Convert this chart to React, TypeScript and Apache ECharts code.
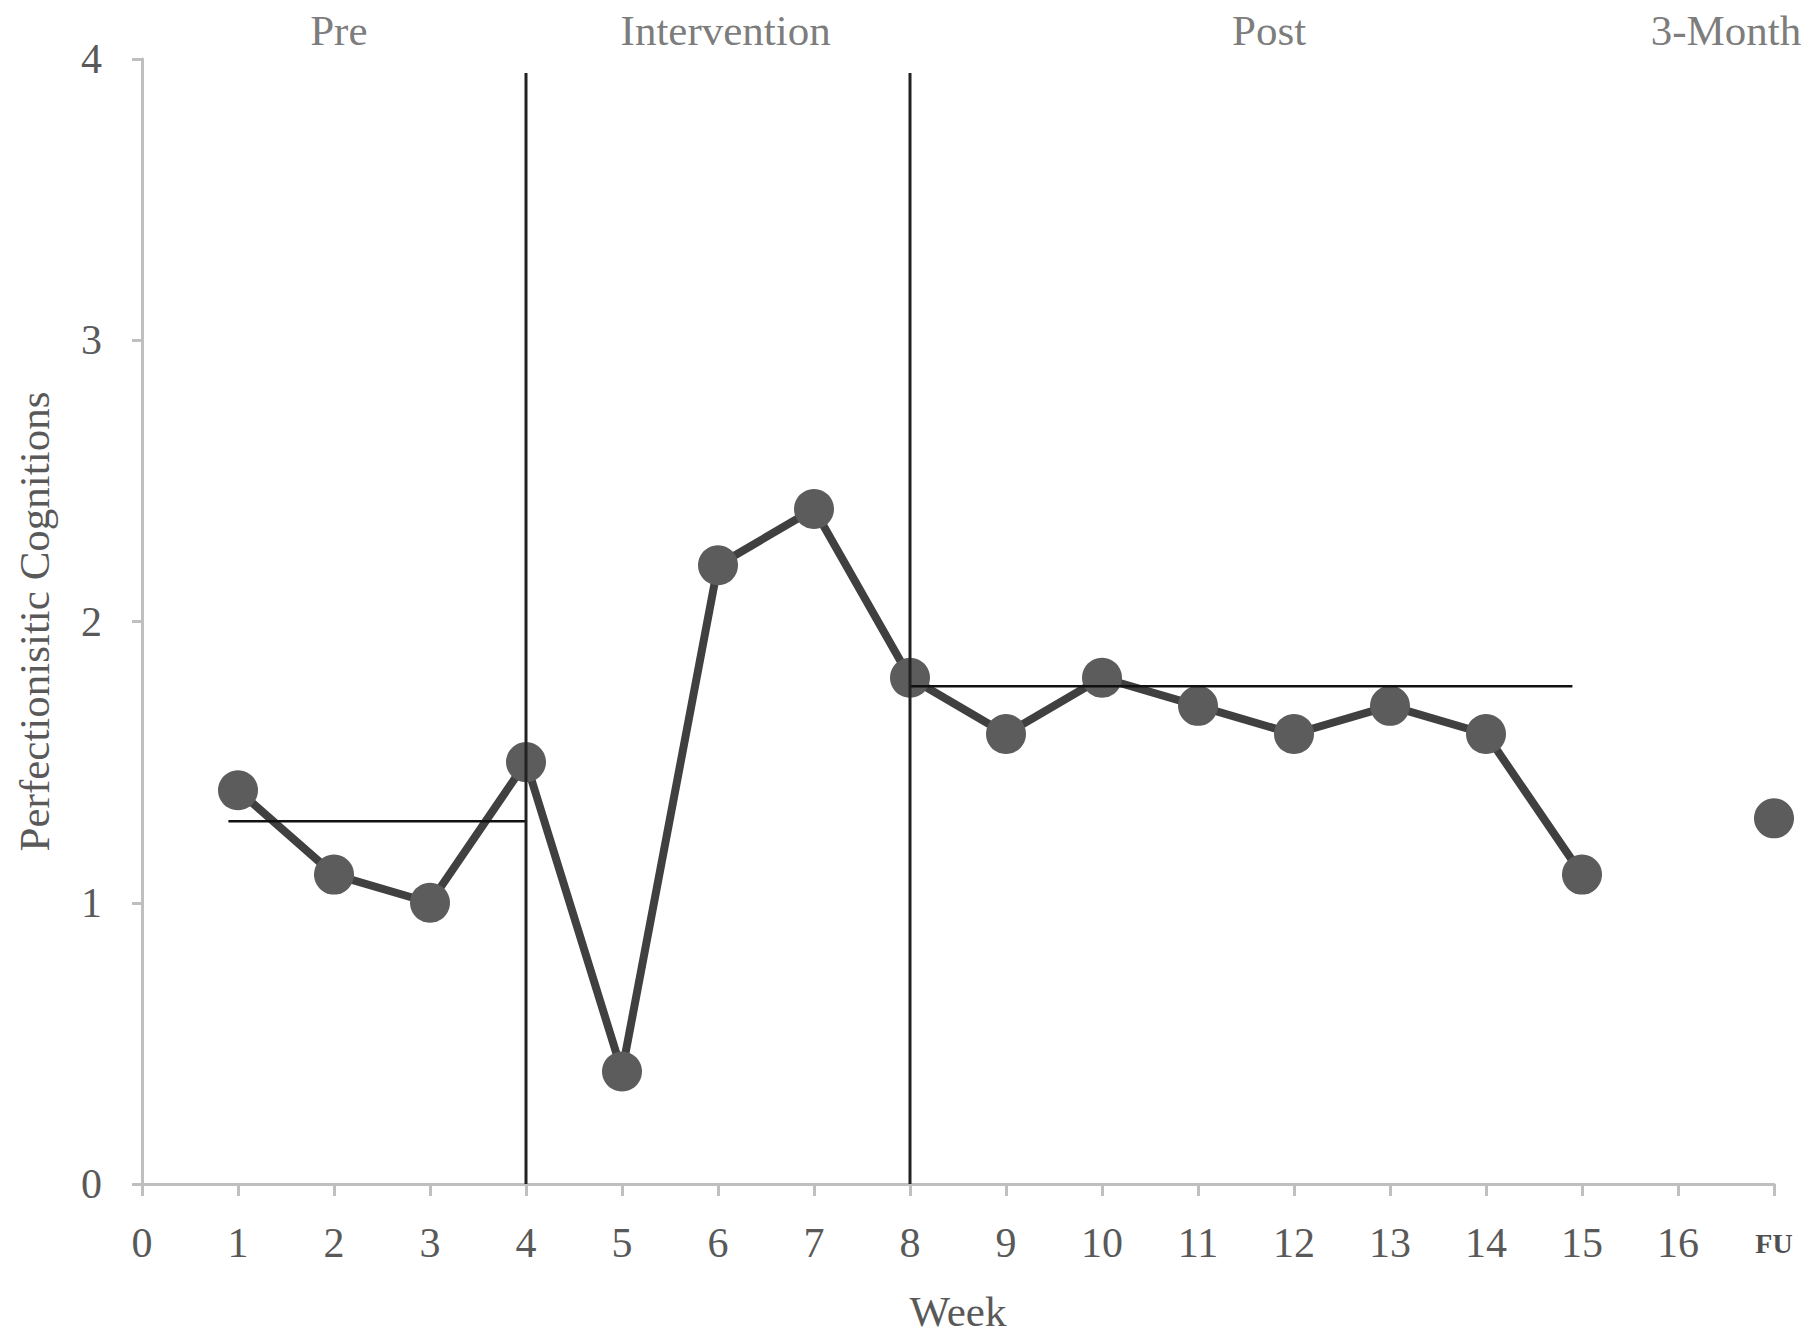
import React, { useEffect, useRef } from "react";
import * as echarts from "echarts";

const weeks = [1, 2, 3, 4, 5, 6, 7, 8, 9, 10, 11, 12, 13, 14, 15];
const scores = [1.4, 1.1, 1.0, 1.5, 0.4, 2.2, 2.4, 1.8, 1.6, 1.8, 1.7, 1.6, 1.7, 1.6, 1.1];
const followUpWeek = 17;
const followUpScore = 1.3;
const fuLabel = "FU";

const phaseNames = ["Pre", "Intervention", "Post", "3-Month"];
const phaseCenters = [2.05, 6.08, 11.74, 16.5];
const phaseLabelValue = 4.1;

const phaseBoundaries = [4, 8];
const boundaryTop = 3.95;

const meanNames = ["Pre mean", "Post mean"];
const meanStarts = [0.9, 8];
const meanEnds = [4, 14.9];
const meanValues = [1.29, 1.77];

const FONT = "'Liberation Serif', 'Times New Roman', serif";
const TEXT = "#595959";
const AXIS = "#bfbfbf";
const MARK = "#5c5c5c";

export default function App() {
  const ref = useRef<HTMLDivElement>(null);
  useEffect(() => {
    if (!ref.current) return;
    const chart = echarts.init(ref.current, null, { renderer: "svg" });
    const series: any[] = [
      {
        name: "Perfectionistic Cognitions",
        type: "line",
        data: weeks.map((w, i) => [w, scores[i]]),
        symbol: "circle",
        symbolSize: 40,
        lineStyle: { color: "#404040", width: 8 },
        itemStyle: { color: MARK, opacity: 1 },
        z: 2,
      },
      {
        name: "Follow-up",
        type: "scatter",
        data: [[followUpWeek, followUpScore]],
        symbol: "circle",
        symbolSize: 40,
        itemStyle: { color: MARK, opacity: 1 },
        z: 2,
      },
    ];
    meanValues.forEach((v, i) => {
      series.push({
        name: meanNames[i],
        type: "line",
        data: [
          [meanStarts[i], v],
          [meanEnds[i], v],
        ],
        symbol: "none",
        lineStyle: { color: "#111111", width: 2.5 },
        z: 5,
      });
    });
    phaseBoundaries.forEach((b, i) => {
      series.push({
        name: "Boundary " + (i + 1),
        type: "line",
        data: [
          [b, 0],
          [b, boundaryTop],
        ],
        symbol: "none",
        lineStyle: { color: "#222222", width: 3 },
        z: 5,
      });
    });
    series.push({
      name: "Phases",
      type: "scatter",
      symbolSize: 0,
      clip: false,
      silent: true,
      data: phaseNames.map((n, i) => ({ name: n, value: [phaseCenters[i], phaseLabelValue] })),
      label: {
        show: true,
        position: "inside",
        formatter: (p: any) => p.name,
        color: TEXT,
        fontFamily: FONT,
        fontSize: 43,
      },
      z: 6,
    });

    chart.setOption({
      animation: false,
      backgroundColor: "#ffffff",
      grid: { left: 142, right: 34, top: 59, bottom: 153, containLabel: false },
      xAxis: {
        type: "value",
        min: 0,
        max: 17,
        interval: 1,
        name: "Week",
        nameLocation: "middle",
        nameGap: 106,
        nameTextStyle: { color: TEXT, fontFamily: FONT, fontSize: 43 },
        axisLine: { lineStyle: { color: AXIS, width: 3 } },
        axisTick: { show: true, length: 12, lineStyle: { color: AXIS, width: 3 } },
        splitLine: { show: false },
        axisLabel: {
          color: TEXT,
          fontFamily: FONT,
          fontSize: 42,
          lineHeight: 46,
          margin: 36,
          showMinLabel: true,
          showMaxLabel: true,
          formatter: (v: number) => (v === followUpWeek ? "{fu|" + fuLabel + "}" : String(v)),
          rich: {
            fu: {
              fontSize: 28,
              lineHeight: 46,
              fontWeight: "bold",
              color: "#4f4f4f",
              fontFamily: FONT,
            },
          },
        },
      },
      yAxis: {
        type: "value",
        min: 0,
        max: 4,
        interval: 1,
        name: "Perfectionisitic Cognitions",
        nameLocation: "middle",
        nameRotate: 90,
        nameGap: 86,
        nameTextStyle: { color: TEXT, fontFamily: FONT, fontSize: 43 },
        axisLine: { show: true, lineStyle: { color: AXIS, width: 3 } },
        axisTick: { show: true, length: 10, lineStyle: { color: AXIS, width: 3 } },
        splitLine: { show: false },
        axisLabel: { color: TEXT, fontFamily: FONT, fontSize: 42, margin: 40 },
      },
      series,
    });
    return () => chart.dispose();
  }, []);
  return (
    <div
      ref={ref}
      style={{ position: "fixed", left: 0, top: 0, width: 1808, height: 1338, background: "#fff" }}
    />
  );
}
